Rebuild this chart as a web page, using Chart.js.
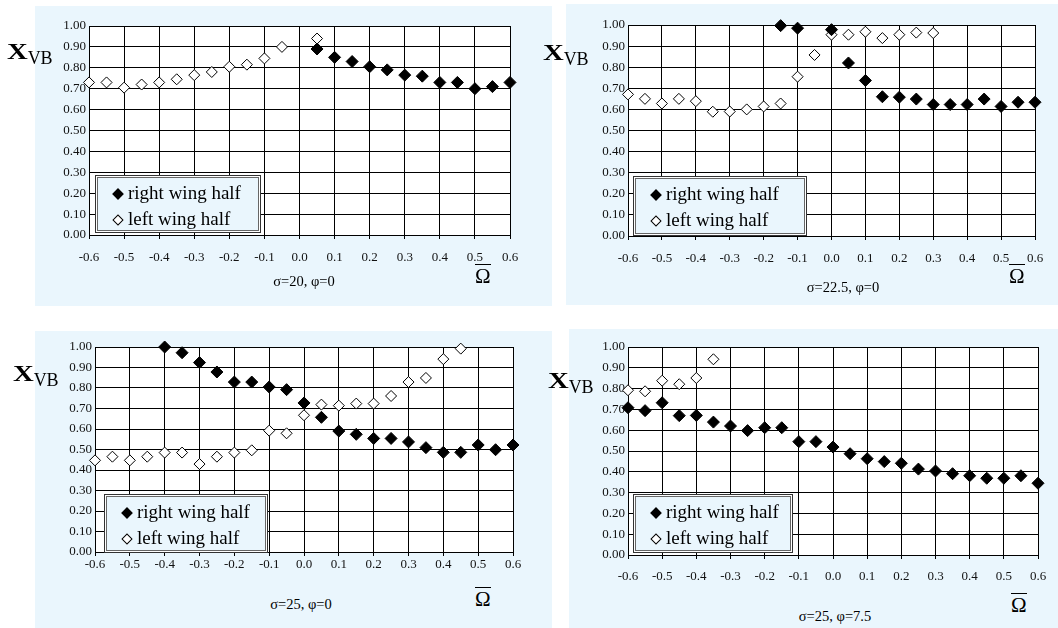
<!DOCTYPE html>
<html>
<head>
<meta charset="utf-8">
<script src="https://cdn.jsdelivr.net/npm/chart.js@4.4.1/dist/chart.umd.min.js"></script>
<style>
  body { margin: 0; width: 1058px; height: 628px; position: relative; overflow: hidden; background: #fff;
         font-family: "Liberation Serif", "Times New Roman", serif; color: #000; }
  .bg { position: absolute; background: #eaf6fd; }
  canvas { position: absolute; }
  .xvb { position: absolute; white-space: nowrap; font-size: 23px; line-height: 22px; font-family: "Liberation Serif", serif; }
  .xvb .x { font-weight: bold; display: inline-block; transform: scaleX(1.25); transform-origin: left; margin-right: 4px; }
  .xvb .vb { font-size: 18px; position: relative; top: 5px; }
  .om { position: absolute; font-size: 21px; line-height: 17px; padding-top: 3px; border-top: 1px solid #000;
        font-family: "Liberation Serif", serif; }
  .cap { position: absolute; font-size: 14.5px; white-space: nowrap; transform: translate(-50%, -50%);
         font-family: "Liberation Serif", serif; }
  .legend { position: absolute; box-sizing: border-box; background: #eaf6fd; border: 1px solid #666;
            box-shadow: 0 0 0 1px #fff, 0 0 0 2px #333; padding: 2px 0 0 16px; font-size: 19px;
            font-family: "Liberation Serif", serif; }
  .legend div { height: 26px; line-height: 26px; white-space: nowrap; }
  .mk { display: inline-block; width: 8px; height: 8px; box-sizing: border-box; transform: rotate(45deg);
        margin-right: 6px; vertical-align: 1px; border: 1px solid #000; }
</style>
</head>
<body>
<script>
// omega values shared by all four panels
const omega = [-0.6, -0.55, -0.5, -0.45, -0.4, -0.35, -0.3, -0.25, -0.2, -0.15, -0.1, -0.05, 0,
               0.05, 0.1, 0.15, 0.2, 0.25, 0.3, 0.35, 0.4, 0.45, 0.5, 0.55, 0.6];

// sigma = 20, phi = 0
const s20Right = [null, null, null, null, null, null, null, null, null, null, null, null, null,
                  0.89, 0.85, 0.83, 0.805, 0.79, 0.765, 0.76, 0.73, 0.73, 0.70, 0.71, 0.73];
const s20Left  = [0.73, 0.73, 0.705, 0.72, 0.73, 0.745, 0.765, 0.78, 0.805, 0.815, 0.845, 0.90, null,
                  0.94, null, null, null, null, null, null, null, null, null, null, null];

// sigma = 22.5, phi = 0
const s225Right = [null, null, null, null, null, null, null, null, null, 0.997, 0.985, null, 0.978,
                   0.82, 0.737, 0.66, 0.658, 0.649, 0.623, 0.623, 0.623, 0.649, 0.614, 0.634, 0.634];
const s225Left  = [0.671, 0.65, 0.628, 0.65, 0.639, 0.589, 0.59, 0.60, 0.614, 0.628, 0.755, 0.858, 0.954,
                   0.954, 0.968, 0.938, 0.954, 0.964, 0.962, null, null, null, null, null, null];

// sigma = 25, phi = 0
const s25Right = [null, null, null, null, 1.0, 0.972, 0.924, 0.878, 0.829, 0.829, 0.805, 0.792, 0.727,
                  0.657, 0.59, 0.574, 0.554, 0.554, 0.537, 0.509, 0.486, 0.486, 0.522, 0.499, 0.522];
const s25Left  = [0.447, 0.465, 0.447, 0.465, 0.485, 0.485, 0.429, 0.465, 0.485, 0.496, 0.592, 0.579, 0.667,
                  0.719, 0.714, 0.724, 0.724, 0.761, 0.829, 0.849, 0.941, 0.992, null, null, null];

// sigma = 25, phi = 7.5
const s25p75Right = [0.708, 0.694, 0.732, 0.67, 0.671, 0.639, 0.62, 0.598, 0.612, 0.612, 0.545, 0.545, 0.519,
                     0.487, 0.463, 0.449, 0.441, 0.413, 0.404, 0.391, 0.381, 0.369, 0.369, 0.381, 0.345];
const s25p75Left  = [0.792, 0.787, 0.838, 0.821, 0.851, 0.941, null, null, null, null, null, null, null,
                     null, null, null, null, null, null, null, null, null, null, null, null];

const seriesNames = ["right wing half", "left wing half"];
const captions = ["σ=20, φ=0", "σ=22.5, φ=0", "σ=25, φ=0", "σ=25, φ=7.5"];

// layout of the four panels (plot area edges, backgrounds, labels)
const panels = [
  { right: s20Right, left: s20Left, cap: captions[0], bg: [35, 6, 517, 300], area: [89, 26, 510, 235], tickPad: 11,
    xvb: [7, 41], om: [475, 264], capAt: [304, 281], leg: [97, 177, 162, 54] },
  { right: s225Right, left: s225Left, cap: captions[1], bg: [566, 4, 492, 301], area: [628, 25, 1035, 236], tickPad: 11,
    xvb: [543, 42], om: [1009, 264], capAt: [843, 287], leg: [635, 178, 170, 56] },
  { right: s25Right, left: s25Left, cap: captions[2], bg: [35, 331, 517, 297], area: [95, 347, 513, 552], tickPad: 1,
    xvb: [13, 363], om: [475, 587], capAt: [301, 604], leg: [106, 496, 160, 55] },
  { right: s25p75Right, left: s25p75Left, cap: captions[3], bg: [569, 329, 489, 299], area: [628, 347, 1038, 555], tickPad: 10,
    xvb: [548, 370], om: [1011, 593], capAt: [835, 616], leg: [635, 496, 156, 55] }
];

const plotWhite = {
  id: "plotWhite",
  beforeDraw(chart) {
    const a = chart.chartArea, ctx = chart.ctx;
    ctx.save();
    ctx.fillStyle = "#fff";
    ctx.fillRect(a.left, a.top, a.right - a.left, a.bottom - a.top);
    ctx.restore();
  }
};

const pts = (arr) => omega.map((x, i) => ({ x, y: arr[i] })).filter((p) => p.y !== null);

function addDiv(cls, html, css) {
  const d = document.createElement("div");
  d.className = cls;
  d.innerHTML = html;
  Object.assign(d.style, css);
  document.body.appendChild(d);
  return d;
}

const YW = 52, XH = 34, PT = 14, PR = 20;

panels.forEach((p) => {
  addDiv("bg", "", { left: p.bg[0] + "px", top: p.bg[1] + "px", width: p.bg[2] + "px", height: p.bg[3] + "px" });

  const [L, T, R, B] = p.area;
  const cv = document.createElement("canvas");
  cv.width = R - L + YW + PR;
  cv.height = B - T + PT + XH;
  cv.style.left = (L - YW) + "px";
  cv.style.top = (T - PT) + "px";
  document.body.appendChild(cv);

  const tickFont = { family: "'Liberation Serif', serif", size: 13 };
  const chart = new Chart(cv, {
    type: "scatter",
    data: {
      datasets: [
        { label: seriesNames[0], data: pts(p.right), pointStyle: "rectRot", pointRadius: 6,
          backgroundColor: "#000", borderColor: "#000", borderWidth: 1, clip: false },
        { label: seriesNames[1], data: pts(p.left), pointStyle: "rectRot", pointRadius: 5.5,
          backgroundColor: "#fff", borderColor: "#000", borderWidth: 1, clip: false }
      ]
    },
    options: {
      responsive: false,
      animation: false,
      events: [],
      layout: { padding: { left: 0, top: PT, right: PR, bottom: 0 } },
      plugins: { legend: { display: false }, tooltip: { enabled: false } },
      scales: {
        x: {
          type: "linear", min: -0.6, max: 0.6,
          afterFit: (s) => { s.height = XH; },
          ticks: { stepSize: 0.1, autoSkip: false, maxRotation: 0, padding: p.tickPad, color: "#111", font: tickFont,
                   callback: (v) => (Math.abs(v) < 1e-9 ? 0 : v).toFixed(1) },
          grid: { color: "#000", lineWidth: 1, tickLength: 4 },
          border: { color: "#000", width: 1 }
        },
        y: {
          min: 0, max: 1,
          afterFit: (s) => { s.width = YW; },
          ticks: { stepSize: 0.1, padding: 3, color: "#111", font: tickFont,
                   callback: (v) => v.toFixed(2) },
          grid: { color: "#000", lineWidth: 1, drawTicks: false },
          border: { color: "#000", width: 1 }
        }
      }
    },
    plugins: [plotWhite]
  });

  addDiv("xvb", '<span class="x">X</span><span class="vb">VB</span>',
         { left: p.xvb[0] + "px", top: p.xvb[1] + "px" });
  addDiv("om", "Ω", { left: p.om[0] + "px", top: p.om[1] + "px" });
  addDiv("cap", p.cap, { left: p.capAt[0] + "px", top: p.capAt[1] + "px" });

  const rows = chart.data.datasets.map((ds) =>
    `<div><span class="mk" style="background:${ds.backgroundColor}"></span>${ds.label}</div>`).join("");
  addDiv("legend", rows, { left: p.leg[0] + "px", top: p.leg[1] + "px", width: p.leg[2] + "px", height: p.leg[3] + "px" });
});
</script>
</body>
</html>
